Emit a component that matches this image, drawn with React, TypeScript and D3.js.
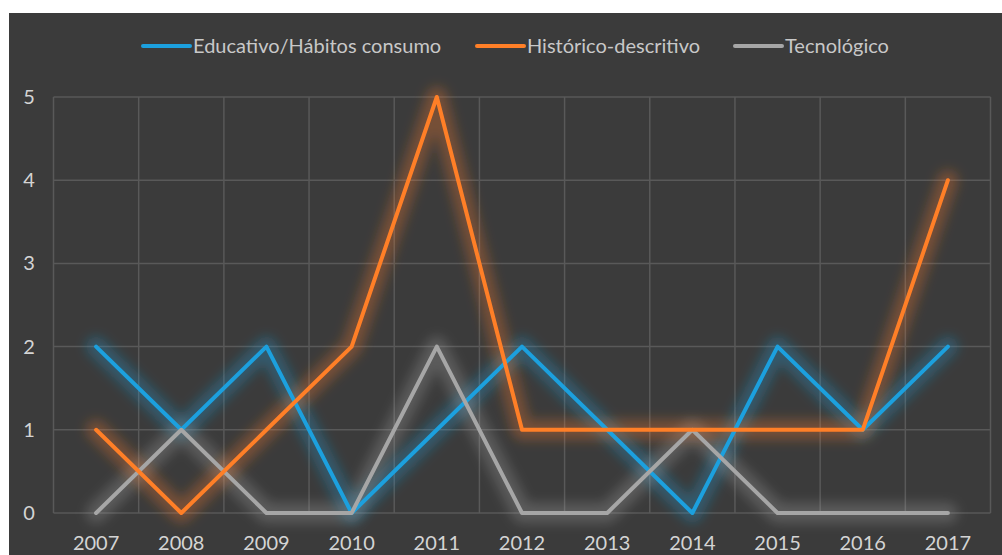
import React, { useEffect, useRef } from "react";
import * as d3 from "d3";

const years = ["2007", "2008", "2009", "2010", "2011", "2012", "2013", "2014", "2015", "2016", "2017"];
const educativo = [2, 1, 2, 0, 1, 2, 1, 0, 2, 1, 2];
const historico = [1, 0, 1, 2, 5, 1, 1, 1, 1, 1, 4];
const tecnologico = [0, 1, 0, 0, 2, 0, 0, 1, 0, 0, 0];
const yTicks = [0, 1, 2, 3, 4, 5];

const seriesNames = ["Educativo/Hábitos consumo", "Histórico-descritivo", "Tecnológico"];
const seriesColors = ["#1ca0de", "#ff7f27", "#a6a6a6"];

export default function App() {
  const svgRef = useRef<SVGSVGElement>(null);

  useEffect(() => {
    document.body.style.margin = "0";
    if (!svgRef.current) return;
    const svg = d3.select(svgRef.current);
    svg.selectAll("*").remove();

    const width = 1002;
    const height = 555;
    const margin = { top: 97, right: 11.5, bottom: 42, left: 53.5 };
    const font = "Lato, 'Open Sans', sans-serif";

    // chart background
    svg.append("rect")
      .attr("x", 9)
      .attr("y", 13)
      .attr("width", width - 9)
      .attr("height", height - 13)
      .attr("fill", "#3b3b3b");

    // glow filter
    const defs = svg.append("defs");
    const filter = defs.append("filter")
      .attr("id", "glow")
      .attr("x", "-20%")
      .attr("y", "-20%")
      .attr("width", "140%")
      .attr("height", "140%");
    filter.append("feGaussianBlur").attr("stdDeviation", 6);

    const x = d3.scaleBand<string>()
      .domain(years)
      .range([margin.left, width - margin.right]);

    const y = d3.scaleLinear()
      .domain([0, 5])
      .range([height - margin.bottom, margin.top]);

    const g = svg.append("g");

    // horizontal gridlines
    g.selectAll(".hgrid")
      .data(yTicks)
      .join("line")
      .attr("x1", margin.left)
      .attr("x2", width - margin.right)
      .attr("y1", (d) => y(d))
      .attr("y2", (d) => y(d))
      .attr("stroke", "#595959")
      .attr("stroke-width", 1.5);

    // vertical gridlines at category boundaries
    const bounds = years.map((d) => x(d) as number).concat([width - margin.right]);
    g.selectAll(".vgrid")
      .data(bounds)
      .join("line")
      .attr("x1", (d) => d)
      .attr("x2", (d) => d)
      .attr("y1", y(5))
      .attr("y2", y(0))
      .attr("stroke", "#595959")
      .attr("stroke-width", 1.5);

    // y labels
    g.selectAll(".ylab")
      .data(yTicks)
      .join("text")
      .attr("x", 29)
      .attr("y", (d) => y(d))
      .attr("dy", "0.35em")
      .attr("text-anchor", "middle")
      .attr("fill", "#d4d4d4")
      .style("font-family", font)
      .style("font-size", "20px")
      .text((d) => d);

    // x labels
    g.selectAll(".xlab")
      .data(years)
      .join("text")
      .attr("x", (d) => (x(d) as number) + x.bandwidth() / 2)
      .attr("y", 543)
      .attr("dy", "0.35em")
      .attr("text-anchor", "middle")
      .attr("fill", "#d4d4d4")
      .style("font-family", font)
      .style("font-size", "20px")
      .text((d) => d);

    const line = d3.line<number>()
      .x((_, i) => (x(years[i]) as number) + x.bandwidth() / 2)
      .y((d) => y(d));

    const allSeries = [educativo, historico, tecnologico];
    // draw order: blue, gray, orange
    [0, 2, 1].forEach((si) => {
      g.append("path")
        .datum(allSeries[si])
        .attr("fill", "none")
        .attr("stroke", seriesColors[si])
        .attr("stroke-width", 20)
        .attr("stroke-opacity", 0.3)
        .attr("stroke-linejoin", "round")
        .attr("stroke-linecap", "round")
        .attr("filter", "url(#glow)")
        .attr("d", line);
    });
    [0, 2, 1].forEach((si) => {
      g.append("path")
        .datum(allSeries[si])
        .attr("fill", "none")
        .attr("stroke", seriesColors[si])
        .attr("stroke-width", 4)
        .attr("stroke-linejoin", "round")
        .attr("stroke-linecap", "round")
        .attr("d", line);
    });

    // legend
    const legendX = [143, 477, 735];
    const legend = svg.append("g");
    seriesNames.forEach((name, i) => {
      legend.append("line")
        .attr("x1", legendX[i])
        .attr("x2", legendX[i] + 47)
        .attr("y1", 46)
        .attr("y2", 46)
        .attr("stroke", seriesColors[i])
        .attr("stroke-width", 4)
        .attr("stroke-linecap", "round");
      legend.append("text")
        .attr("x", legendX[i] + 50)
        .attr("y", 46)
        .attr("dy", "0.35em")
        .attr("fill", "#c8c8c8")
        .style("font-family", font)
        .style("font-size", "20px")
        .text(name);
    });
  }, []);

  return <svg ref={svgRef} width={1002} height={555} style={{ display: "block" }} />;
}
